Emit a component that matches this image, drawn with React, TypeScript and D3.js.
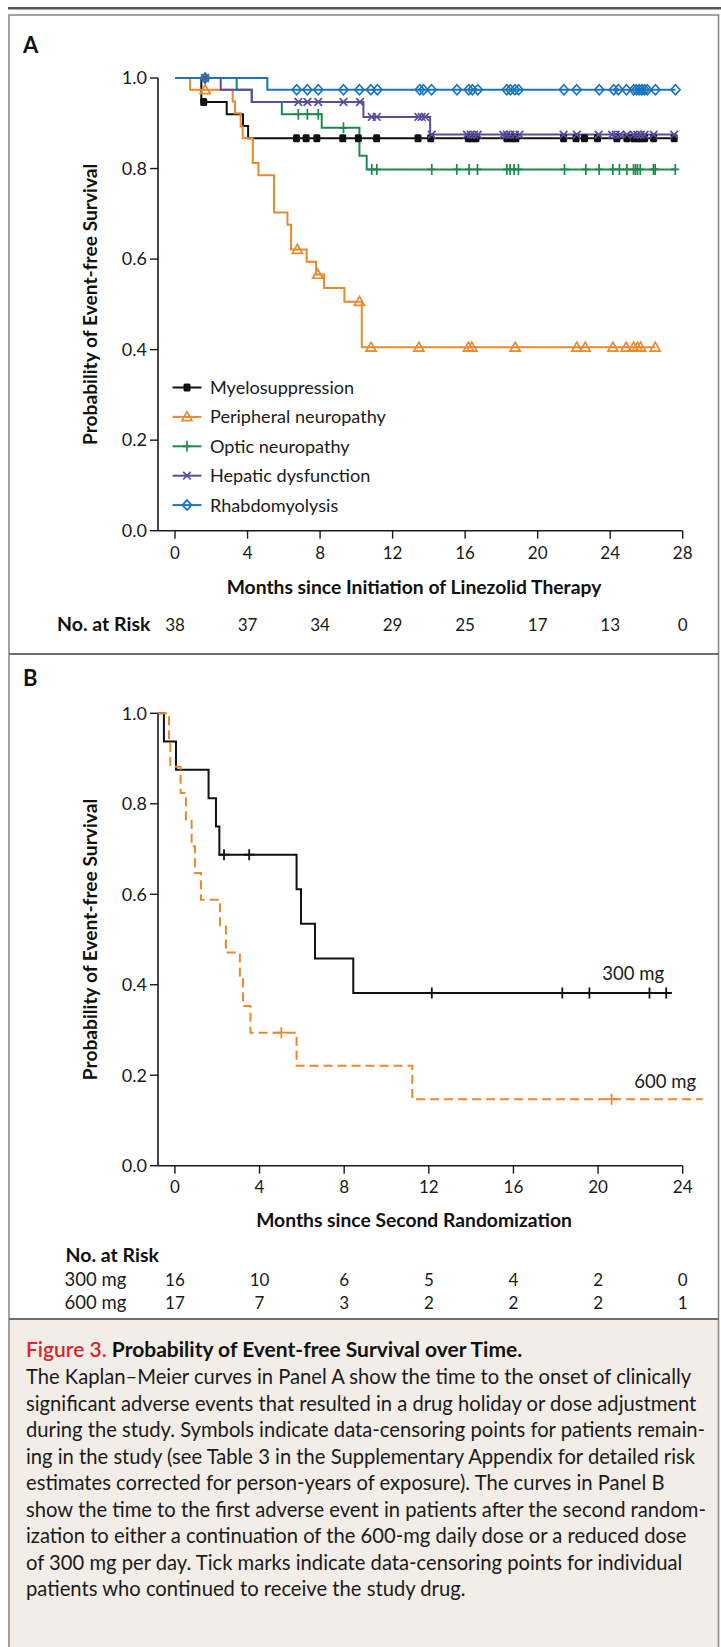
import React from 'react';
import * as d3 from 'd3';

const W = 721;
const H = 1647;

// ---------- Panel A data ----------
const monthTicksA = [0, 4, 8, 12, 16, 20, 24, 28];
const probTicks = [0, 0.2, 0.4, 0.6, 0.8, 1.0];
const riskA = [38, 37, 34, 29, 25, 17, 13, 0];

const myeloSteps = [[0, 1], [1.45, 0.947], [2.85, 0.92], [3.75, 0.894], [4.03, 0.867]];
const myeloCensor = [1.58, 6.7, 7.23, 7.82, 9.25, 10.11, 11.12, 13.4, 14.1, 16.18, 16.37, 16.6, 18.3, 18.58, 18.8, 21.43, 22.12, 22.58, 23.3, 24.37, 24.92, 25.3, 25.5, 25.7, 25.9, 26.4, 27.53];

const periSteps = [[0, 1], [0.83, 0.974], [3.18, 0.948], [3.31, 0.922], [3.62, 0.893], [3.73, 0.867], [4.29, 0.812], [4.6, 0.785], [5.46, 0.703], [6.2, 0.676], [6.4, 0.621], [7.26, 0.594], [7.78, 0.566], [8.22, 0.536], [9.34, 0.506], [10.3, 0.405]];
const periCensor = [1.66, 6.75, 7.87, 10.17, 10.81, 13.45, 16.18, 16.37, 18.76, 22.16, 22.62, 24.15, 24.88, 25.29, 25.5, 25.68, 26.48];

const opticSteps = [[0, 1], [3.4, 0.974], [4.23, 0.947], [5.89, 0.92], [8.09, 0.89], [10.17, 0.828], [10.57, 0.798]];
const opticCensor = [1.66, 6.8, 7.3, 7.9, 9.29, 10.85, 11.13, 14.16, 15.54, 16.22, 16.68, 18.3, 18.48, 18.7, 18.94, 21.48, 22.66, 23.39, 24.15, 24.51, 24.92, 25.29, 25.4, 25.51, 25.66, 26.39, 26.48, 27.59];

const hepSteps = [[0, 1], [2.52, 0.974], [4.23, 0.947], [10.39, 0.914], [14.07, 0.875]];
const hepCensor = [1.66, 6.8, 7.3, 7.9, 9.29, 10.2, 10.85, 11.13, 13.42, 13.6, 13.8, 14.16, 16.1, 16.3, 16.5, 16.7, 18.1, 18.3, 18.5, 18.75, 19.0, 21.43, 22.16, 23.36, 24.1, 24.3, 24.55, 24.92, 25.3, 25.5, 25.7, 25.9, 26.4, 27.53];

const rhabSteps = [[0, 1], [5.09, 0.974]];
const rhabCensor = [1.66, 6.71, 7.3, 7.9, 9.29, 10.17, 10.8, 11.16, 13.5, 13.7, 14.15, 15.55, 16.2, 16.4, 16.7, 18.3, 18.5, 18.75, 18.95, 21.45, 22.15, 23.4, 24.2, 24.45, 24.9, 25.3, 25.45, 25.6, 25.75, 25.9, 26.05, 26.5, 27.6];

const legendNames = ['Myelosuppression', 'Peripheral neuropathy', 'Optic neuropathy', 'Hepatic dysfunction', 'Rhabdomyolysis'];

// ---------- Panel B data ----------
const monthTicksB = [0, 4, 8, 12, 16, 20, 24];
const risk300 = [16, 10, 6, 5, 4, 2, 0];
const risk600 = [17, 7, 3, 2, 2, 2, 1];

const steps300 = [[-0.8, 1], [-0.52, 0.9375], [0.05, 0.875], [1.59, 0.8125], [1.94, 0.75], [2.1, 0.6875], [5.75, 0.611], [5.96, 0.535], [6.62, 0.458], [8.43, 0.382]];
const censor300 = [2.32, 3.51, 12.14, 18.31, 19.59, 22.43, 23.22];
const end300 = 23.48;

const steps600 = [[-0.8, 1], [-0.28, 0.941], [-0.22, 0.882], [0.27, 0.824], [0.52, 0.765], [0.79, 0.706], [0.95, 0.647], [1.23, 0.588], [2.13, 0.529], [2.41, 0.471], [3.07, 0.412], [3.22, 0.353], [3.57, 0.294], [5.75, 0.221], [11.22, 0.147]];
const censor600 = [5.03, 20.64];
const end600 = 24.95;

const captionLines = [
  'The Kaplan\u2013Meier curves in Panel A show the time to the onset of clinically',
  'significant adverse events that resulted in a drug holiday or dose adjustment',
  'during the study. Symbols indicate data-censoring points for patients remain-',
  'ing in the study (see Table 3 in the Supplementary Appendix for detailed risk',
  'estimates corrected for person-years of exposure). The curves in Panel B',
  'show the time to the first adverse event in patients after the second random-',
  'ization to either a continuation of the 600-mg daily dose or a reduced dose',
  'of 300 mg per day. Tick marks indicate data-censoring points for individual',
  'patients who continued to receive the study drug.',
];

// ---------- styles ----------
const FONT = 'Lato, "Open Sans", "Noto Sans", sans-serif';
const C_BLACK = '#111111';
const C_ORANGE = '#E8892C';
const C_GREEN = '#1C8A4B';
const C_PURPLE = '#5B4C9E';
const C_BLUE = '#1A75BB';

const seriesA = [
  { name: legendNames[0], color: C_BLACK, steps: myeloSteps, censor: myeloCensor, marker: 'square' },
  { name: legendNames[1], color: C_ORANGE, steps: periSteps, censor: periCensor, marker: 'triangle' },
  { name: legendNames[2], color: C_GREEN, steps: opticSteps, censor: opticCensor, marker: 'plus' },
  { name: legendNames[3], color: C_PURPLE, steps: hepSteps, censor: hepCensor, marker: 'cross' },
  { name: legendNames[4], color: C_BLUE, steps: rhabSteps, censor: rhabCensor, marker: 'diamond' },
];

function valueAt(steps: number[][], t: number) {
  let v = steps[0][1];
  for (const s of steps) if (s[0] <= t) v = s[1];
  return v;
}

function Marker({ type, x, y, color }: { type: string; x: number; y: number; color: string }) {
  const sw = 1.7;
  if (type === 'square') return <rect x={x - 3.5} y={y - 4} width={7} height={8} rx={1.5} fill={color} />;
  if (type === 'triangle') return <path d={`M${x},${y - 5.2}L${x + 5},${y + 3.8}L${x - 5},${y + 3.8}Z`} fill="none" stroke={color} strokeWidth={sw} strokeLinejoin="miter" />;
  if (type === 'plus') return <path d={`M${x},${y - 5.5}V${y + 5.5}M${x - 4},${y}H${x + 4}`} fill="none" stroke={color} strokeWidth={sw} />;
  if (type === 'cross') return <path d={`M${x - 3.8},${y - 3.8}L${x + 3.8},${y + 3.8}M${x - 3.8},${y + 3.8}L${x + 3.8},${y - 3.8}`} fill="none" stroke={color} strokeWidth={sw} />;
  return <path d={`M${x},${y - 5}L${x + 4.6},${y}L${x},${y + 5}L${x - 4.6},${y}Z`} fill="none" stroke={color} strokeWidth={sw} />;
}

export default function App() {
  // scales
  const xA = d3.scaleLinear().domain([-0.94, 28]).range([158, 682.7]);
  const yA = d3.scaleLinear().domain([0, 1]).range([530.7, 78]);
  const xB = d3.scaleLinear().domain([-0.8, 24]).range([158, 682.7]);
  const yB = d3.scaleLinear().domain([0, 1]).range([1165.7, 713.3]);

  const lineA = d3.line<number[]>().x(d => xA(d[0])).y(d => yA(d[1])).curve(d3.curveStepAfter);
  const lineB = d3.line<number[]>().x(d => xB(d[0])).y(d => yB(d[1])).curve(d3.curveStepAfter);

  const pathFor = (steps: number[][], end: number, line: any) => {
    const pts = [...steps, [end, steps[steps.length - 1][1]]];
    return line(pts) as string;
  };

  const axisColor = '#1a1a1a';
  const xTickFs = 17;
  const yTickFs = 18;
  const titleFs = 19.3;
  const capTop = 1319;
  const titleY = 1357;
  const line1Y = 1384;
  const lineStep = 26.5;

  return (
    <div style={{ position: 'absolute', left: 0, top: 0 }}>
      <svg width={W} height={H} viewBox={`0 0 ${W} ${H}`} style={{ display: 'block', fontFamily: FONT }}>
        <rect x={0} y={0} width={W} height={H} fill="#ffffff" />
        {/* frame */}
        <rect x={9.8} y={capTop + 1} width={708} height={H - capTop} fill="#F3EDE8" />
        <line x1={8} x2={721} y1={8.2} y2={8.2} stroke="#555" strokeWidth={2.4} />
        <rect x={9} y={15} width={709.5} height={1640} fill="none" stroke="#8a8a8a" strokeWidth={1.6} />
        <line x1={9} x2={718.5} y1={654} y2={654} stroke="#6e6e6e" strokeWidth={2.2} />
        <line x1={9} x2={718.5} y1={capTop} y2={capTop} stroke="#6e6e6e" strokeWidth={2.2} />

        {/* Panel labels */}
        <text x={23} y={53} fontSize={22} fontWeight={700} fill="#111">A</text>
        <text x={23} y={686} fontSize={22} fontWeight={700} fill="#111">B</text>

        {/* ===== Panel A ===== */}
        <g>
          <line x1={158} x2={158} y1={yA(1)} y2={yA(0)} stroke={axisColor} strokeWidth={1.6} />
          <line x1={158} x2={xA(28)} y1={yA(0)} y2={yA(0)} stroke={axisColor} strokeWidth={1.6} />
          {probTicks.map(p => (
            <g key={'ya' + p}>
              <line x1={150} x2={158} y1={yA(p)} y2={yA(p)} stroke={axisColor} strokeWidth={1.4} />
              <text x={147} y={yA(p) + 6.3} fontSize={yTickFs} textAnchor="end" fill="#1a1a1a">{p.toFixed(1)}</text>
            </g>
          ))}
          {monthTicksA.map(m => (
            <g key={'xa' + m}>
              <line x1={xA(m)} x2={xA(m)} y1={yA(0)} y2={yA(0) + 8} stroke={axisColor} strokeWidth={1.4} />
              <text x={xA(m)} y={559} fontSize={xTickFs} textAnchor="middle" fill="#1a1a1a">{m}</text>
            </g>
          ))}
          <text x={414} y={594} fontSize={titleFs} fontWeight={700} textAnchor="middle" fill="#111">Months since Initiation of Linezolid Therapy</text>
          <text transform={`translate(97,${(yA(0) + yA(1)) / 2}) rotate(-90)`} fontSize={19.2} fontWeight={700} textAnchor="middle" fill="#111">Probability of Event-free Survival</text>
          <text x={57} y={631} fontSize={19.5} fontWeight={700} fill="#111">No. at Risk</text>
          {riskA.map((r, i) => (
            <text key={'ra' + i} x={xA(monthTicksA[i])} y={631} fontSize={xTickFs} textAnchor="middle" fill="#1a1a1a">{r}</text>
          ))}

          {seriesA.map(s => (
            <path key={'la' + s.name} d={pathFor(s.steps, s.censor[s.censor.length - 1], lineA)} fill="none" stroke={s.color} strokeWidth={2} />
          ))}
          {seriesA.map(s => (
            <g key={'ma' + s.name}>
              {s.censor.map((t, i) => (
                <Marker key={i} type={s.marker} x={xA(t)} y={yA(valueAt(s.steps, t))} color={s.color} />
              ))}
            </g>
          ))}

          {/* legend */}
          {seriesA.map((s, i) => {
            const cy = 387.5 + i * 29.4;
            return (
              <g key={'lg' + s.name}>
                <line x1={172.5} x2={201.5} y1={cy} y2={cy} stroke={s.color} strokeWidth={2} />
                <Marker type={s.marker} x={187} y={cy} color={s.color} />
                <text x={210} y={cy + 6.5} fontSize={18.1} fill="#1a1a1a">{s.name}</text>
              </g>
            );
          })}
        </g>

        {/* ===== Panel B ===== */}
        <g>
          <line x1={158} x2={158} y1={yB(1)} y2={yB(0)} stroke={axisColor} strokeWidth={1.6} />
          <line x1={158} x2={xB(24)} y1={yB(0)} y2={yB(0)} stroke={axisColor} strokeWidth={1.6} />
          {probTicks.map(p => (
            <g key={'yb' + p}>
              <line x1={150} x2={158} y1={yB(p)} y2={yB(p)} stroke={axisColor} strokeWidth={1.4} />
              <text x={147} y={yB(p) + 6.3} fontSize={yTickFs} textAnchor="end" fill="#1a1a1a">{p.toFixed(1)}</text>
            </g>
          ))}
          {monthTicksB.map(m => (
            <g key={'xb' + m}>
              <line x1={xB(m)} x2={xB(m)} y1={yB(0)} y2={yB(0) + 8} stroke={axisColor} strokeWidth={1.4} />
              <text x={xB(m)} y={1193} fontSize={xTickFs} textAnchor="middle" fill="#1a1a1a">{m}</text>
            </g>
          ))}
          <text x={414} y={1227} fontSize={titleFs} fontWeight={700} textAnchor="middle" fill="#111">Months since Second Randomization</text>
          <text transform={`translate(97,${(yB(0) + yB(1)) / 2}) rotate(-90)`} fontSize={19.2} fontWeight={700} textAnchor="middle" fill="#111">Probability of Event-free Survival</text>

          <path d={pathFor(steps300, end300, lineB)} fill="none" stroke={C_BLACK} strokeWidth={2} />
          <path d={pathFor(steps600, end600, lineB)} fill="none" stroke={C_ORANGE} strokeWidth={2} strokeDasharray="9,5" />
          {censor300.map((t, i) => {
            const x = xB(t), y = yB(valueAt(steps300, t));
            return <path key={'c3' + i} d={`M${x},${y - 5.5}V${y + 5.5}M${x - 5.5},${y}H${x + 5.5}`} stroke={C_BLACK} strokeWidth={1.8} fill="none" />;
          })}
          {censor600.map((t, i) => {
            const x = xB(t), y = yB(valueAt(steps600, t));
            return <path key={'c6' + i} d={`M${x},${y - 5.5}V${y + 5.5}M${x - 6},${y}H${x + 6}`} stroke={C_ORANGE} strokeWidth={1.8} fill="none" />;
          })}
          <text x={664} y={980} fontSize={18.5} textAnchor="end" fill="#1a1a1a">300 mg</text>
          <text x={696} y={1088} fontSize={18.5} textAnchor="end" fill="#1a1a1a">600 mg</text>

          <text x={65.5} y={1262} fontSize={19.5} fontWeight={700} fill="#111">No. at Risk</text>
          <text x={64.5} y={1285.5} fontSize={18.5} fill="#1a1a1a">300 mg</text>
          <text x={64.5} y={1308.5} fontSize={18.5} fill="#1a1a1a">600 mg</text>
          {risk300.map((r, i) => (
            <text key={'r3' + i} x={xB(monthTicksB[i])} y={1285.5} fontSize={xTickFs} textAnchor="middle" fill="#1a1a1a">{r}</text>
          ))}
          {risk600.map((r, i) => (
            <text key={'r6' + i} x={xB(monthTicksB[i])} y={1308.5} fontSize={xTickFs} textAnchor="middle" fill="#1a1a1a">{r}</text>
          ))}
        </g>

        {/* ===== Caption ===== */}
        <text x={26} y={titleY} fontSize={21} fontWeight={700} fill="#111">
          <tspan fill="#D9262E" fontWeight={600}>Figure 3.</tspan>
          <tspan> Probability of Event-free Survival over Time.</tspan>
        </text>
        {captionLines.map((l, i) => (
          <text key={'cap' + i} x={26} y={line1Y + i * lineStep} fontSize={20.2} fill="#1a1a1a">{l}</text>
        ))}
      </svg>
    </div>
  );
}
